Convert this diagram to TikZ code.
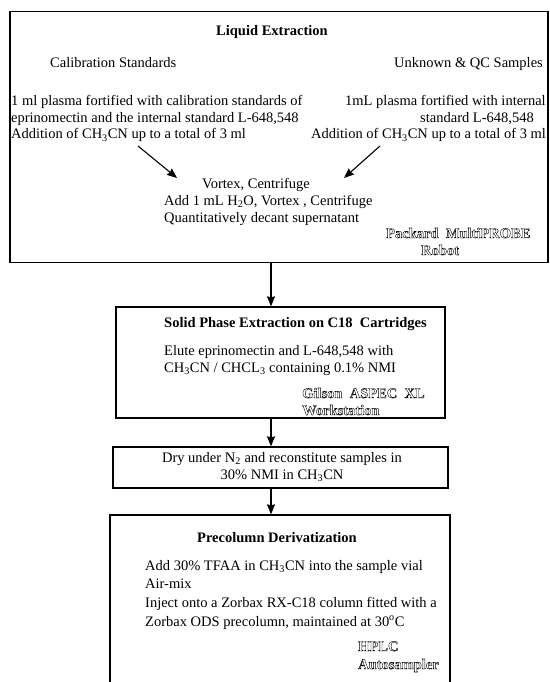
\documentclass[tikz,border=0pt]{standalone}
\usepackage{fontspec}
\setmainfont{Liberation Serif}
\usepackage{tikz}
\usetikzlibrary{arrows,arrows.meta,positioning}
\newcommand{\hollow}[1]{\special{pdf:literal direct 1 Tr 0.4 w}\textbf{#1}\special{pdf:literal direct 0 Tr}}
\tikzstyle{arrow} = [line width=1.1pt,->,>={Stealth[length=10pt,width=8pt,inset=1pt]}]
\tikzstyle{stagebox} = [rectangle, draw, line width=1.3pt, inner sep=0pt]
\tikzstyle{txt} = [anchor=base west, inner sep=0pt, font=\fontsize{14.5}{17}\selectfont]
\tikzstyle{heading} = [anchor=base, inner sep=0pt, font=\fontsize{14.5}{17}\selectfont\bfseries]

\begin{document}
\begin{tikzpicture}[x=1pt, y=-1pt]
\clip (0,0) rectangle (549,682);
\coordinate (arrowx) at (271,0);

% Liquid extraction box
\node[stagebox, minimum width=538pt, minimum height=251pt] at (279,137) (liquid) {};
\node[heading] at (272,36) (liqtitle) {Liquid Extraction};
\node[txt] at (50,68) (calib) {Calibration Standards};
\node[txt] at (394,68) (unknown) {Unknown \& QC Samples};
\node[txt] at (11,106) (cal1) {1 ml plasma fortified with calibration standards of};
\node[txt] at (11,122) (cal2) {eprinomectin and the internal standard L-648,548};
\node[txt] at (11,139) (cal3) {Addition of CH\textsubscript{3}CN up to a total of 3 ml};
\node[txt] at (345,106) (unk1) {1mL plasma fortified with internal};
\node[txt] at (420,122) (unk2) {standard L-648,548};
\node[txt] at (311,139) (unk3) {Addition of CH\textsubscript{3}CN up to a total of 3 ml};
\node[txt] at (202,188) (vortex) {Vortex, Centrifuge};
\node[txt] at (164,205) (water) {Add 1 mL H\textsubscript{2}O, Vortex , Centrifuge};
\node[txt] at (164,222) (decant) {Quantitatively decant supernatant};
\node[txt] at (386,238) (packard) {\hollow{Packard\ \ MultiPROBE}};
\node[txt] at (421,255) (robot) {\hollow{Robot}};
\coordinate (caltail) at (138,146);
\coordinate (calhead) at (177,178);
\coordinate (unktail) at (380,146);
\coordinate (unkhead) at (344,178);
\draw[arrow] (caltail) -- (calhead);
\draw[arrow] (unktail) -- (unkhead);

% Solid phase extraction box
\node[stagebox, minimum width=329pt, minimum height=111pt] at (280.5,362.5) (solid) {};
\node[txt, font=\fontsize{14.5}{17}\selectfont\bfseries] at (164,327) (soltitle) {Solid Phase Extraction on C18\ \ Cartridges};
\node[txt] at (164,355) (elute1) {Elute eprinomectin and L-648,548 with};
\node[txt] at (164,372) (elute2) {CH\textsubscript{3}CN / CHCL\textsubscript{3} containing 0.1\% NMI};
\node[txt] at (302,398) (gilson) {\hollow{Gilson\ \ ASPEC\ \ XL}};
\node[txt] at (302,415) (workst) {\hollow{Workstation}};

% Drying box
\node[stagebox, minimum width=335pt, minimum height=41pt] at (280.5,467.5) (dry) {};
\node[anchor=center, inner sep=0pt, align=center, font=\fontsize{14.5}{17}\selectfont] at (282,467) (drytext)
  {Dry under N\textsubscript{2} and reconstitute samples in\\30\% NMI in CH\textsubscript{3}CN};

% Precolumn derivatization box
\node[stagebox, minimum width=340pt, minimum height=190pt] at (280,610) (deriv) {};
\node[heading] at (277,542) (dertitle) {Precolumn Derivatization};
\node[txt] at (145,570) (der1) {Add 30\% TFAA in CH\textsubscript{3}CN into the sample vial};
\node[txt] at (145,588) (der2) {Air-mix};
\node[txt] at (145,607) (der3) {Inject onto a Zorbax RX-C18 column fitted with a};
\node[txt] at (145,626) (der4) {Zorbax ODS precolumn, maintained at 30\textsuperscript{o}C};
\node[txt] at (358,651) (hplc) {\hollow{HPLC}};
\node[txt] at (358,669) (autos) {\hollow{Autosampler}};

% Flow arrows
\draw[arrow] (liquid.south -| arrowx) -- (solid.north -| arrowx);
\draw[arrow] (solid.south -| arrowx) -- (dry.north -| arrowx);
\draw[arrow] (dry.south -| arrowx) -- (deriv.north -| arrowx);
\end{tikzpicture}
\end{document}
